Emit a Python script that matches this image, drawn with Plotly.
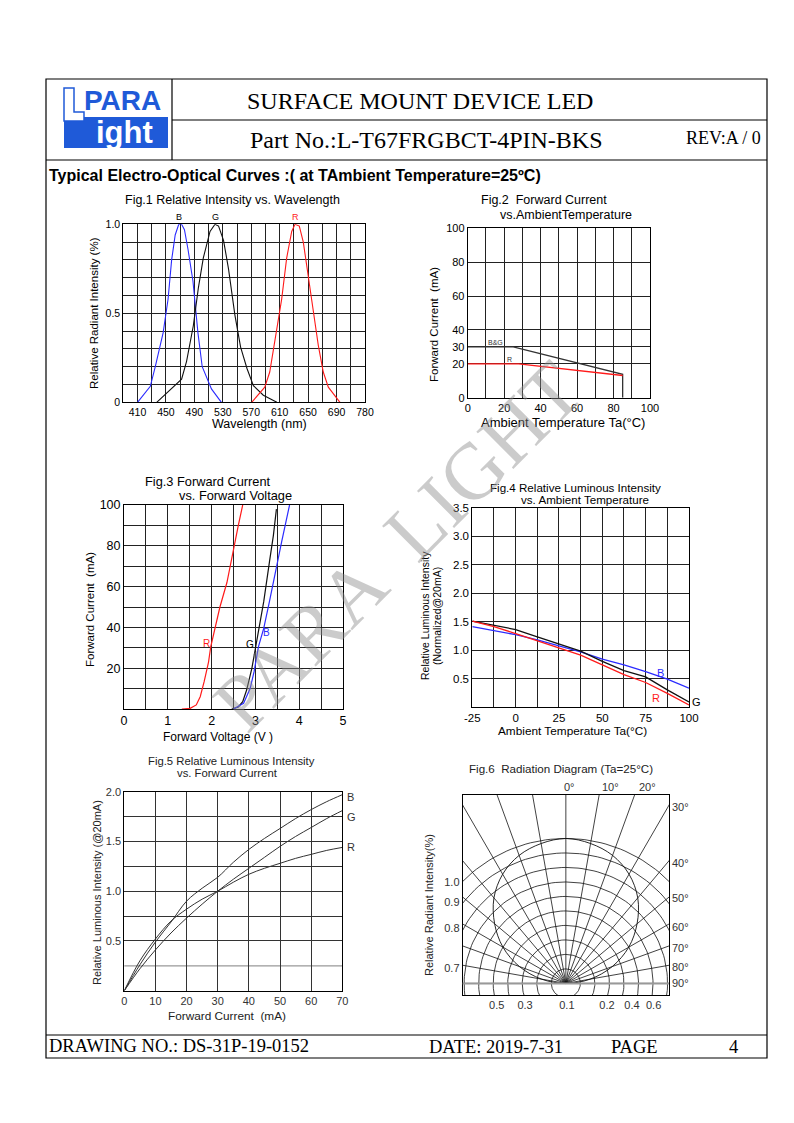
import numpy as np
import plotly.graph_objects as go

W, H = 794, 1123
SANS = "Liberation Sans, Arial, sans-serif"
SERIF = "Liberation Serif, Times New Roman, serif"

# ---------------- data ----------------
# Fig.1 Relative intensity vs wavelength
wl_blue = [410, 428, 435, 446, 453, 458, 463, 468, 472, 476, 481, 488, 495, 501, 514, 528]
ri_blue = [0, 0.09, 0.2, 0.39, 0.58, 0.8, 0.94, 1.0, 1.0, 0.97, 0.86, 0.68, 0.39, 0.2, 0.075, 0]
wl_green = [437, 458, 472, 479, 488.5, 495.5, 502.5, 512, 519, 524, 531, 538, 547, 555, 564, 573, 587, 606]
ri_green = [0, 0.075, 0.13, 0.23, 0.43, 0.64, 0.81, 0.96, 1.0, 0.99, 0.91, 0.75, 0.49, 0.31, 0.19, 0.094, 0.04, 0]
wl_red = [570.6, 589, 596, 605.8, 612.8, 619.8, 626.9, 631.5, 637.6, 643.2, 650.2, 657.3, 664.3, 671.3, 678.4, 694.8]
ri_red = [0, 0.085, 0.17, 0.41, 0.58, 0.81, 0.96, 1.0, 0.99, 0.9, 0.71, 0.49, 0.32, 0.17, 0.085, 0]
fig1_xtick_vals = [410, 450, 490, 530, 570, 610, 650, 690, 730]
fig1_xtick_text = ["410", "450", "490", "530", "570", "610", "650", "690", "780"]
fig1_ytick_vals = [0, 0.5, 1.0]
fig1_ytick_text = ["0", "0.5", "1.0"]

# Fig.2 Forward current vs ambient temperature
ta_bg = [0, 25, 85, 85]
if_bg = [30, 30, 13.8, 0]
ta_r = [0, 28, 85]
if_r2 = [20, 20, 13.1]
fig2_ytick_vals = [0, 20, 30, 40, 60, 80, 100]

# Fig.3 Forward current vs forward voltage
vf_r = [1.32, 1.51, 1.65, 1.74, 1.83, 1.93, 1.98, 2.1, 2.19, 2.35, 2.5, 2.61, 2.71]
if_r = [0, 0.3, 2, 6, 13.4, 23, 30.5, 41, 50, 62, 79, 90, 100]
vf_g = [2.46, 2.61, 2.71, 2.8, 2.92, 3.0, 3.07, 3.19, 3.32, 3.41, 3.48]
if_g = [0, 1, 3.6, 9.3, 20, 29.7, 39.5, 52.6, 72, 85, 98]
vf_b = [2.5, 2.73, 2.88, 2.97, 3.07, 3.19, 3.32, 3.48, 3.6, 3.78]
if_b = [0, 2.8, 10, 18.3, 30.6, 39.5, 52.6, 70, 82, 100]

# Fig.4 Relative luminous intensity vs ambient temperature
ta4 = [-25, -12.5, 0, 12.5, 25, 37.5, 50, 62.5, 75, 87.5, 100]
g4 = [1.51, 1.44, 1.36, 1.23, 1.1, 0.98, 0.8, 0.64, 0.53, 0.3, 0.09]
r4 = [1.51, 1.41, 1.29, 1.16, 1.03, 0.91, 0.74, 0.57, 0.43, 0.24, 0.035]
b4 = [1.41, 1.34, 1.27, 1.18, 1.08, 0.97, 0.84, 0.74, 0.62, 0.49, 0.33]

# Fig.5 Relative luminous intensity vs forward current
if5 = [0, 5, 10, 15, 20, 25, 30, 35, 40, 45, 50, 55, 60, 65, 70]
b5 = [0, 0.26, 0.49, 0.69, 0.9, 1.03, 1.14, 1.29, 1.42, 1.53, 1.63, 1.73, 1.82, 1.9, 1.97]
g5 = [0, 0.22, 0.41, 0.58, 0.73, 0.87, 1.0, 1.12, 1.23, 1.34, 1.45, 1.55, 1.64, 1.73, 1.81]
r5 = [0, 0.3, 0.52, 0.7, 0.82, 0.92, 1.0, 1.09, 1.17, 1.23, 1.28, 1.33, 1.37, 1.41, 1.44]

# Fig.6 Radiation diagram
rad_angles = list(range(-90, 91, 10))
ring_levels = [0.1, 0.2, 0.3, 0.4, 0.5, 0.6, 0.7, 0.8, 0.9, 1.0]
pattern_angles = [-90, -80, -70, -60, -50, -40, -30, -20, -10, 0, 10, 20, 30, 40, 50, 60, 70, 80, 90]
pattern_rel = [0, 0.17, 0.34, 0.5, 0.64, 0.77, 0.87, 0.94, 0.98, 1.0, 0.98, 0.94, 0.87, 0.77, 0.64, 0.5, 0.34, 0.17, 0]
fig6_left_text = ["1.0", "0.9", "0.8", "0.7"]
fig6_left_vals = [0.70, 0.563, 0.379, 0.103]
fig6_bottom_text = ["0.5", "0.3", "0.1", "0.2", "0.4", "0.6"]
fig6_bottom_vals = [-0.476, -0.281, 0.007, 0.283, 0.455, 0.604]
fig6_right_text = ["30°", "40°", "50°", "60°", "70°", "80°", "90°"]
fig6_right_vals = [1.218, 0.834, 0.586, 0.386, 0.241, 0.115, 0.0]
fig6_top_text = ["0°", "10°", "20°"]
fig6_top_vals = [0, 0.283, 0.535]


def px(x):
    return x / W


def py(y):
    return 1 - y / H


def frange(a, b, step):
    n = int(round((b - a) / step))
    return [round(a + i * step, 4) for i in range(n + 1)]


def ticks(grid, label_vals, label_text):
    lab = {round(v, 4): t for v, t in zip(label_vals, label_text)}
    return grid, [lab.get(round(g, 4), "") for g in grid]


fig = go.Figure()


def add(x, y, ax, color, width=1.1, shape="linear"):
    fig.add_trace(go.Scatter(x=x, y=y, mode="lines", xaxis="x" + ax, yaxis="y" + ax,
                             line=dict(color=color, width=width, shape=shape),
                             hoverinfo="skip", showlegend=False))


BLUE, RED, BLACK = "#2b2bff", "#ff1a1a", "#111111"

# Fig1
add(wl_blue, ri_blue, "", BLUE)
add(wl_green, ri_green, "", BLACK)
add(wl_red, ri_red, "", RED)
# Fig2
add(ta_bg, if_bg, "2", "#333333", 1.3)
add(ta_r, if_r2, "2", RED, 1.3)
# Fig3
add(vf_r, if_r, "3", RED, 1.2)
add(vf_g, if_g, "3", BLACK, 1.2)
add(vf_b, if_b, "3", BLUE, 1.2)
# Fig4
add(ta4, b4, "4", BLUE, 1.3)
add(ta4, g4, "4", BLACK, 1.3)
add(ta4, r4, "4", RED, 1.3)
# Fig5
add(if5, b5, "5", "#333333", 1.0, "spline")
add(if5, g5, "5", "#333333", 1.0, "spline")
add(if5, r5, "5", "#333333", 1.0, "spline")

# Fig6 radials, rings, pattern
rx, ry = [], []
for a in rad_angles:
    t = np.radians(a)
    rx += [0, 3 * np.sin(t), None]
    ry += [0, 3 * np.cos(t), None]
add(rx, ry, "6", "#111111", 0.8)
cx, cy = [], []
th = np.radians(np.arange(0, 361, 2))
for r in ring_levels:
    cx += list(r * np.sin(th)) + [None]
    cy += list(r * np.cos(th)) + [None]
add(cx, cy, "6", "#111111", 0.8)
pt = np.radians(pattern_angles)
add(list(np.array(pattern_rel) * np.sin(pt)), list(np.array(pattern_rel) * np.cos(pt)), "6", "#111111", 0.9, "spline")


def xaxis(l, r, rng, tv, tt, anchor, fs, color="black", grid=True, gc="#222222"):
    return dict(domain=[px(l), px(r)], range=rng, tickvals=tv, ticktext=tt, anchor=anchor,
                showgrid=grid, gridcolor=gc, gridwidth=1, showline=True, mirror=True,
                linecolor="black", linewidth=1, zeroline=False, ticks="", automargin=False,
                tickfont=dict(size=fs, family=SANS, color=color), fixedrange=True)


def yaxis(t, b, rng, tv, tt, anchor, fs, color="black", grid=True, gc="#222222"):
    return dict(domain=[py(b), py(t)], range=rng, tickvals=tv, ticktext=tt, anchor=anchor,
                showgrid=grid, gridcolor=gc, gridwidth=1, showline=True, mirror=True,
                linecolor="black", linewidth=1, zeroline=False, ticks="", automargin=False,
                tickfont=dict(size=fs, family=SANS, color=color), fixedrange=True)


lay = {}
# Fig1
tv, tt = ticks(frange(390, 730, 20), fig1_xtick_vals, fig1_xtick_text)
lay["xaxis"] = xaxis(123.3, 365, [390, 730], tv, tt, "y", 10.5)
tv, tt = ticks(frange(0, 1, 0.1), fig1_ytick_vals, fig1_ytick_text)
lay["yaxis"] = yaxis(224.3, 402.3, [0, 1], tv, tt, "x", 10.5)
# Fig2
tv, tt = ticks(frange(0, 100, 10), frange(0, 100, 20), [str(int(v)) for v in frange(0, 100, 20)])
lay["xaxis2"] = xaxis(467.7, 650, [0, 100], tv, tt, "y2", 11)
lay["yaxis2"] = yaxis(228.3, 397.7, [0, 100], fig2_ytick_vals, [str(v) for v in fig2_ytick_vals], "x2", 11)
# Fig3
tv, tt = ticks(frange(0, 5, 0.5), frange(0, 5, 1), [str(int(v)) for v in frange(0, 5, 1)])
lay["xaxis3"] = xaxis(124, 343, [0, 5], tv, tt, "y3", 12.5)
tv, tt = ticks(frange(0, 100, 10), frange(20, 100, 20), [str(int(v)) for v in frange(20, 100, 20)])
lay["yaxis3"] = yaxis(505, 709, [0, 100], tv, tt, "x3", 12.5)
# Fig4
tv, tt = ticks(frange(-25, 100, 12.5), frange(-25, 100, 25), [str(int(v)) for v in frange(-25, 100, 25)])
lay["xaxis4"] = xaxis(472.3, 689, [-25, 100], tv, tt, "y4", 11.5)
tv, tt = ticks(frange(0, 3.5, 0.5), frange(0.5, 3.5, 0.5), ["%.1f" % v for v in frange(0.5, 3.5, 0.5)])
lay["yaxis4"] = yaxis(507.7, 707, [0, 3.5], tv, tt, "x4", 11.5)
# Fig5
tv, tt = ticks(frange(0, 70, 10), frange(0, 70, 10), [str(int(v)) for v in frange(0, 70, 10)])
lay["xaxis5"] = xaxis(124.3, 342.3, [0, 70], tv, tt, "y5", 11, "#333333", gc="#333333")
tv, tt = ticks([0, 0.5, 0.75, 1.0, 1.25, 1.5, 1.75, 2.0], frange(0.5, 2.0, 0.5), ["%.1f" % v for v in frange(0.5, 2.0, 0.5)])
lay["yaxis5"] = yaxis(791.7, 990.7, [0, 2.0], tv, tt, "x5", 11, "#333333", gc="#333333")
# Fig6
lay["xaxis6"] = xaxis(462.7, 669, [-0.71, 0.71], fig6_bottom_vals, fig6_bottom_text, "y6", 11, "#333333", grid=False)
lay["yaxis6"] = yaxis(795, 995, [-0.08, 1.30], fig6_left_vals, fig6_left_text, "x6", 11, "#333333", grid=False)

ann = []


def note(text, x, y, size=11, color="black", family=SANS, angle=0, xanchor="center", yanchor="middle", bold=False):
    if bold:
        text = "<b>" + text + "</b>"
    ann.append(dict(text=text, x=px(x), y=py(y), xref="paper", yref="paper", showarrow=False,
                    font=dict(size=size, color=color, family=family), textangle=angle,
                    xanchor=xanchor, yanchor=yanchor))


def dnote(text, x, y, ax, size=11, color="black", xanchor="center", yanchor="middle", xshift=0):
    ann.append(dict(text=text, x=x, y=y, xref="x" + ax, yref="y" + ax, showarrow=False,
                    font=dict(size=size, color=color, family=SANS), xanchor=xanchor,
                    yanchor=yanchor, xshift=xshift))


# header / footer
note("SURFACE MOUNT DEVICE LED", 420, 101, 24, family=SERIF)
note("Part No.:L-T67FRGBCT-4PIN-BKS", 426, 140, 24, family=SERIF)
note("REV:A / 0", 723, 138, 18, family=SERIF)
note("Typical Electro-Optical Curves :( at TAmbient Temperature=25ºC)", 47, 175, 16, bold=True, xanchor="left")
note("DRAWING NO.: DS-31P-19-0152", 47, 1046, 18.5, family=SERIF, xanchor="left")
note("DATE: 2019-7-31", 427, 1047, 18.5, family=SERIF, xanchor="left")
note("PAGE", 609, 1047, 18.5, family=SERIF, xanchor="left")
note("4", 727, 1047, 18.5, family=SERIF, xanchor="left")
# logo text
note("PARA", 122, 101, 28, color="#1f5ad8", bold=True)
note("ight", 124, 132, 31, color="white", bold=True)

# Fig1 texts
note("Fig.1 Relative Intensity vs. Wavelength", 232, 200, 12.5)
note("Relative Radiant Intensity (%)", 94, 313, 11.5, angle=-90)
note("Wavelength (nm)", 259, 424, 12.5)
dnote("B", 469, 1.0, "", 9, yanchor="bottom")
dnote("G", 519, 1.0, "", 9, yanchor="bottom")
dnote("R", 632, 1.0, "", 9, color=RED, yanchor="bottom")
# Fig2 texts
note("Fig.2  Forward Current", 544, 200, 12.5)
note("vs.AmbientTemperature", 566, 215, 12.5)
note("Forward Current  (mA)", 434, 325, 11.5, angle=-90)
note("Ambient Temperature Ta(°C)", 563, 423, 13)
dnote("B&amp;G", 15, 32.5, "2", 7, color="#333333")
dnote("R", 23, 22.6, "2", 7, color="#333333")
# Fig3 texts
note("Fig.3 Forward Current", 208, 481, 12.8)
note("vs. Forward Voltage", 235, 495, 12.8)
note("Forward Current  (mA)", 90, 610, 11.5, angle=-90)
note("Forward Voltage (V )", 218, 737, 12)
dnote("R", 1.89, 32, "3", 10, color=RED)
dnote("G", 2.87, 31.5, "3", 10)
dnote("B", 3.25, 37.5, "3", 10, color=BLUE)
# Fig4 texts
note("Fig.4 Relative Luminous Intensity", 575, 487, 11.6)
note("vs. Ambient Temperature", 585, 499, 11.6)
note("Relative Luminous Intensity", 425, 616, 10.5, angle=-90)
note("(Normalized@20mA)", 437, 616, 10.5, angle=-90)
note("Ambient Temperature Ta(°C)", 572, 731, 11.8)
dnote("B", 83.5, 0.6, "4", 11, color=BLUE)
dnote("R", 81, 0.16, "4", 11, color=RED)
dnote("G", 100, 0.09, "4", 11, xanchor="left", xshift=1)
# Fig5 texts
note("Fig.5 Relative Luminous Intensity", 231, 761, 11.3, color="#222222")
note("vs. Forward Current", 227, 773, 11.3, color="#222222")
note("Relative Luminous Intensity (@20mA)", 97, 893, 11, color="#222222", angle=-90)
note("Forward Current  (mA)", 227, 1016, 11.8, color="#222222")
dnote("B", 70, 1.95, "5", 11, color="#333333", xanchor="left", xshift=3)
dnote("G", 70, 1.75, "5", 11, color="#333333", xanchor="left", xshift=3)
dnote("R", 70, 1.44, "5", 11, color="#333333", xanchor="left", xshift=3)
# Fig6 texts
note("Fig.6  Radiation Diagram (Ta=25°C)", 561, 768, 11.6, color="#222222")
note("Relative Radiant Intensity(%)", 429, 905, 11, color="#222222", angle=-90)
for t, v in zip(fig6_right_text, fig6_right_vals):
    dnote(t, 0.71, v, "6", 11, color="#333333", xanchor="left", xshift=1)
for t, v in zip(fig6_top_text, fig6_top_vals):
    dnote(t, v, 1.30, "6", 11, color="#333333", yanchor="bottom", xshift=4)

# watermark
ann.append(dict(text="PARA  LIGHT", x=px(398), y=py(546), xref="paper", yref="paper", showarrow=False,
                textangle=-45, font=dict(size=80, family=SERIF, color="rgba(140,140,140,0.45)"),
                xanchor="center", yanchor="middle"))

shapes = []


def pline(x0, y0, x1, y1, w=1.2, color="black"):
    shapes.append(dict(type="line", xref="paper", yref="paper", x0=px(x0), y0=py(y0), x1=px(x1), y1=py(y1),
                       line=dict(color=color, width=w)))


# page frame
shapes.append(dict(type="rect", xref="paper", yref="paper", x0=px(46), y0=py(79), x1=px(767), y1=py(1058),
                   line=dict(color="black", width=1.2)))
pline(172, 79, 172, 160)
pline(172, 120, 767, 120)
pline(46, 160, 767, 160)
pline(46, 1035, 767, 1035)
# logo
shapes.append(dict(type="rect", xref="paper", yref="paper", x0=px(64), y0=py(148), x1=px(168), y1=py(117),
                   fillcolor="#1f5ad8", line=dict(width=0)))
shapes.append(dict(type="path", xref="paper", yref="paper",
                   path="M %f,%f L %f,%f L %f,%f L %f,%f L %f,%f L %f,%f Z" % (
                       px(64), py(88), px(74), py(88), px(74), py(112), px(84), py(112), px(84), py(121),
                       px(64), py(121)),
                   fillcolor="white", line=dict(color="#1f5ad8", width=1.5)))
# gray reference lines
shapes.append(dict(type="line", xref="x5 domain", yref="y5", x0=0, x1=1, y0=0.25, y1=0.25,
                   line=dict(color="#999999", width=1.2), layer="below"))
shapes.append(dict(type="line", xref="x6 domain", yref="y6", x0=0, x1=1, y0=0, y1=0,
                   line=dict(color="#999999", width=2)))

fig.update_layout(width=W, height=H,
                  margin=dict(l=0, r=0, t=0, b=0, pad=0, autoexpand=False),
                  paper_bgcolor="white", plot_bgcolor="white", showlegend=False,
                  annotations=ann, shapes=shapes, **lay)
fig.write_html("out.html", config={"responsive": False, "displayModeBar": False},
               post_script="document.body.style.margin='0';document.body.style.padding='0';")
